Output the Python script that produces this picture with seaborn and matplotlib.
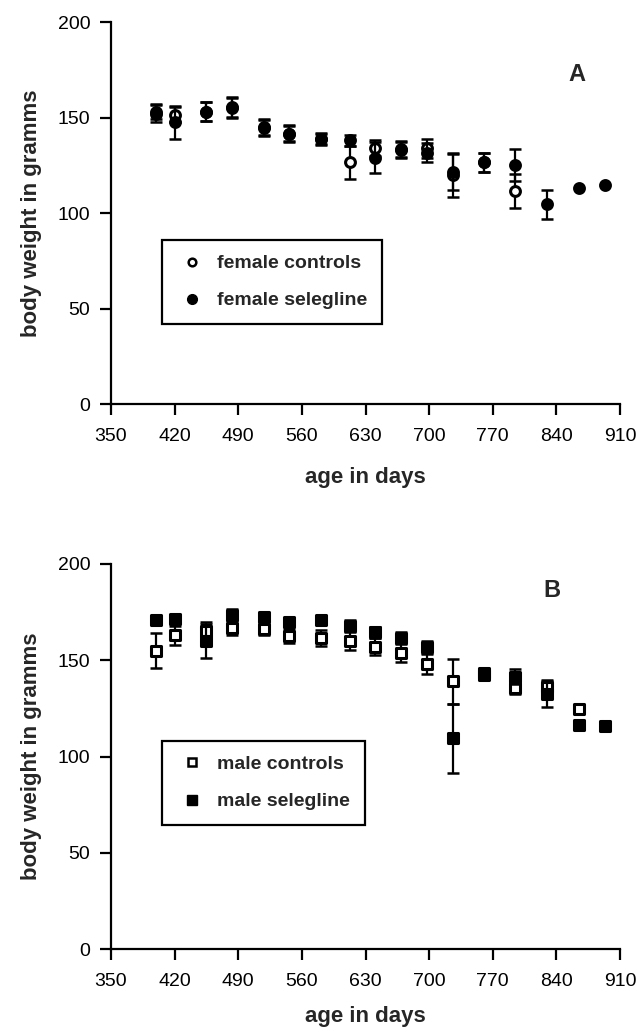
import numpy as np
import pandas as pd
import matplotlib
matplotlib.use("Agg")
import matplotlib.pyplot as plt
from matplotlib.lines import Line2D
import seaborn as sns

# ---------------- data ----------------
days = [399, 420, 455, 483, 518, 546, 581, 613, 641, 669, 698, 726, 760, 795, 830, 865, 893]

female_ctrl_mean = [153, 151.5, 153, 155.5, 145, 141.5, 139, 126.5, 134, 133.5, 134, 120, 126.5, 111.5]
female_ctrl_sem = [4, 4, 5, 5, 4, 4, 3, 8.5, 4, 4, 5, 11.5, 5, 9]
female_sel_mean = [152, 147.5, 153, 155, 144.5, 141.5, 138.5, 138, 129, 133, 131.5, 121.5, 126.5, 125, 104.5, 113, 114.5]
female_sel_sem = [4.5, 8.5, 5, 5, 4, 4.5, 3, 3, 8, 4, 5, 9.5, 5, 8.5, 7.5, 0, 0]

male_ctrl_mean = [155, 163, 165, 167, 166, 162.5, 161.5, 160, 157, 154, 148, 139, 142.5, 135.5, 136, 124.5]
male_ctrl_sem = [9.25, 5, 5, 4, 3, 3.5, 4, 4.5, 4.5, 5, 5, 11.5, 2, 3, 3.7, 0]
male_sel_mean = [171, 171.5, 160, 173.5, 172.5, 170, 171, 168, 164.5, 161.5, 157, 109.5, 143.5, 141.5, 132.5, 116.5, 116]
male_sel_sem = [2, 2, 9, 3, 2, 2, 2, 3, 3, 3, 3, 18, 2, 4, 6.6, 0, 0]

x_ticks = [350, 420, 490, 560, 630, 700, 770, 840, 910]
y_ticks = [0, 50, 100, 150, 200]

# ---------------- style ----------------
sns.set_style("ticks")
plt.rcParams['font.family'] = ['Liberation Sans', 'DejaVu Sans']

W, H = 637, 1034
fig = plt.figure(figsize=(W / 100, H / 100), dpi=100)
axA = fig.add_axes([111 / W, 1 - 404 / H, 509 / W, 382 / H])
axB = fig.add_axes([111 / W, 1 - 949 / H, 509 / W, 385 / H])


def draw_series(ax, mean, sem, marker, filled, label, z):
    n = len(mean)
    df = pd.DataFrame({"day": days[:n], "weight": mean, "sem": sem})
    err = df[df["sem"] > 0]
    ax.errorbar(err["day"], err["weight"], yerr=err["sem"], fmt="none",
                ecolor="black", elinewidth=1.6, capsize=4.6, capthick=1.8,
                zorder=z - 0.5)
    sns.scatterplot(data=df, x="day", y="weight", ax=ax, marker=marker,
                    s=50, facecolor="black" if filled else "white",
                    edgecolor="black", linewidth=2.2, label=label, zorder=z,
                    legend=False)


def style_axes(ax, letter, lx, ly, legend_labels, markers, legend_y, xpad):
    ax.set_xlim(350, 910)
    ax.set_ylim(0, 200)
    ax.set_xticks(x_ticks)
    ax.set_yticks(y_ticks)
    sns.despine(ax=ax)
    for side in ("left", "bottom"):
        ax.spines[side].set_linewidth(1.6)
        ax.spines[side].set_color("black")
    ax.tick_params(axis="both", direction="out", length=8, width=1.6,
                   colors="black", labelsize=14)
    ax.tick_params(axis="x", pad=9)
    ax.tick_params(axis="y", pad=7)
    ax.set_xlabel("age in days", fontsize=16, fontweight="bold", labelpad=xpad)
    ax.set_ylabel("body weight in gramms", fontsize=16, fontweight="bold", labelpad=11)
    ax.text(lx, ly, letter, transform=ax.transAxes, fontsize=17,
            fontweight="bold", ha="center", va="center")
    handles = [
        Line2D([], [], linestyle="none", marker=markers[0], markersize=5.5,
               markerfacecolor="white", markeredgecolor="black", markeredgewidth=1.8),
        Line2D([], [], linestyle="none", marker=markers[1], markersize=7,
               markerfacecolor="black", markeredgecolor="black", markeredgewidth=1.0),
    ]
    leg = ax.legend(handles, legend_labels, loc="upper left",
                    bbox_to_anchor=(0.100, legend_y), fancybox=False,
                    frameon=True, borderpad=0.75, labelspacing=1.0,
                    handlelength=1.6, handletextpad=0.5, borderaxespad=0,
                    prop={"size": 14, "weight": "bold"})
    frame = leg.get_frame()
    frame.set_edgecolor("black")
    frame.set_linewidth(1.6)
    frame.set_facecolor("white")
    frame.set_alpha(1)


draw_series(axA, female_ctrl_mean, female_ctrl_sem, "o", False, "female controls", 3)
draw_series(axA, female_sel_mean, female_sel_sem, "o", True, "female selegline", 5)
style_axes(axA, "A", 0.916, 0.862, ["female controls", "female selegline"], ["o", "o"], 0.429, 16)

draw_series(axB, male_ctrl_mean, male_ctrl_sem, "s", False, "male controls", 3)
draw_series(axB, male_sel_mean, male_sel_sem, "s", True, "male selegline", 5)
style_axes(axB, "B", 0.866, 0.932, ["male controls", "male selegline"], ["s", "s"], 0.540, 12)

fig.savefig("out.png", dpi=100, facecolor="white")
